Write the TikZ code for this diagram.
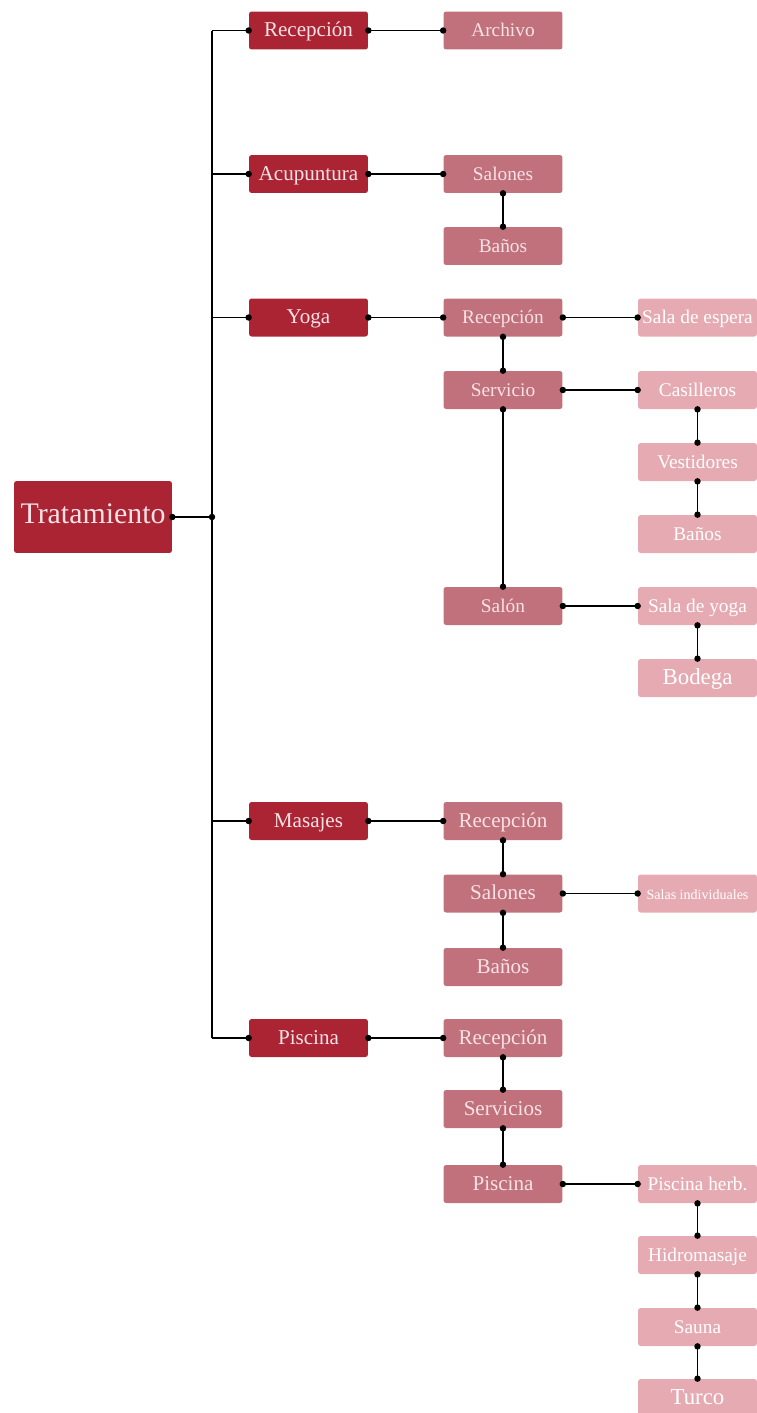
\documentclass[tikz,border=0pt]{standalone}
\usepackage{fontspec}
\setmainfont{Liberation Serif}
\usetikzlibrary{arrows.meta}
\definecolor{deepred}{RGB}{170, 36, 52}
\definecolor{midrose}{RGB}{192, 113, 123}
\definecolor{lightrose}{RGB}{230, 170, 178}
\definecolor{labelpink}{RGB}{248, 226, 230}

\begin{document}
\begin{tikzpicture}[x=0.02cm, y=-0.02cm,
  box/.style={rounded corners=1.5pt, minimum width=2.38cm, minimum height=0.76cm,
    inner sep=1pt, text=labelpink, text height=1.9ex, text depth=0.4ex,
    font=\fontsize{11}{13}\selectfont},
  lvone/.style={box, fill=deepred, font=\fontsize{12}{14}\selectfont},
  lvtwo/.style={box, fill=midrose},
  lvthree/.style={box, fill=lightrose, text=white},
  big/.style={font=\fontsize{12}{14}\selectfont},
  bigger/.style={font=\fontsize{13}{15}\selectfont},
  wire/.style={line width=1pt, black},
  dots/.style={wire, {Circle[length=3.6pt]}-{Circle[length=3.6pt]},
    shorten <=-1.8pt, shorten >=-1.8pt},
  dotend/.style={wire, -{Circle[length=3.6pt]}, shorten >=-1.8pt}]

  \useasboundingbox (0, 0) rectangle (757, 1413);

  % Root
  \node[lvone, minimum width=3.16cm, minimum height=1.44cm,
    font=\fontsize{17}{20}\selectfont] (treat) at (93, 517) {Tratamiento};
  \coordinate (trunk) at (212, 517);

  % Level one
  \node[lvone] (recep) at (308.5, 30.5) {Recepción};
  \node[lvone] (acu)   at (308.5, 174)  {Acupuntura};
  \node[lvone] (yoga)  at (308.5, 317.5) {Yoga};
  \node[lvone] (mas)   at (308.5, 821)  {Masajes};
  \node[lvone] (pisc)  at (308.5, 1038) {Piscina};

  % Level two
  \node[lvtwo] (archivo)  at (503, 30.5) {Archivo};
  \node[lvtwo] (acusal)   at (503, 174)  {Salones};
  \node[lvtwo] (acuban)   at (503, 246)  {Baños};
  \node[lvtwo] (yogrec)   at (503, 317.5) {Recepción};
  \node[lvtwo] (yogserv)  at (503, 390)  {Servicio};
  \node[lvtwo] (yogsal)   at (503, 606)  {Salón};
  \node[lvtwo, big] (masrec)  at (503, 821)  {Recepción};
  \node[lvtwo, big] (massal)  at (503, 893.5) {Salones};
  \node[lvtwo, big] (masban)  at (503, 967)  {Baños};
  \node[lvtwo, big] (pisrec)  at (503, 1038) {Recepción};
  \node[lvtwo, big] (pisserv) at (503, 1109) {Servicios};
  \node[lvtwo, big] (pispis)  at (503, 1184) {Piscina};

  % Level three
  \node[lvthree] (espera)   at (697.5, 317.5) {Sala de espera};
  \node[lvthree] (casill)   at (697.5, 390)  {Casilleros};
  \node[lvthree] (vestid)   at (697.5, 462)  {Vestidores};
  \node[lvthree] (yogban)   at (697.5, 534)  {Baños};
  \node[lvthree] (salyoga)  at (697.5, 606)  {Sala de yoga};
  \node[lvthree, bigger] (bodega) at (697.5, 678) {Bodega};
  \node[lvthree, font=\fontsize{8}{10}\selectfont] (indiv) at (697.5, 893.5) {Salas individuales};
  \node[lvthree] (herb)     at (697.5, 1184) {Piscina herb.};
  \node[lvthree] (hidro)    at (697.5, 1255) {Hidromasaje};
  \node[lvthree] (sauna)    at (697.5, 1327) {Sauna};
  \node[lvthree, bigger] (turco) at (697.5, 1398) {Turco};

  % Trunk and its branches
  \draw[dots] (treat.east) -- (trunk);
  \draw[wire] (recep.west -| trunk) -- (pisc.west -| trunk);
  \foreach \n in {recep, acu, yoga, mas, pisc}
    \draw[dotend] (\n.west -| trunk) -- (\n.west);

  % Level one to level two
  \draw[dots] (recep.east) -- (archivo.west);
  \draw[dots] (acu.east) -- (acusal.west);
  \draw[dots] (yoga.east) -- (yogrec.west);
  \draw[dots] (mas.east) -- (masrec.west);
  \draw[dots] (pisc.east) -- (pisrec.west);

  % Stacks in level two
  \draw[dots] (acusal.south) -- (acuban.north);
  \draw[dots] (yogrec.south) -- (yogserv.north);
  \draw[dots] (yogserv.south) -- (yogsal.north);
  \draw[dots] (masrec.south) -- (massal.north);
  \draw[dots] (massal.south) -- (masban.north);
  \draw[dots] (pisrec.south) -- (pisserv.north);
  \draw[dots] (pisserv.south) -- (pispis.north);

  % Level two to level three
  \draw[dots] (yogrec.east) -- (espera.west);
  \draw[dots] (yogserv.east) -- (casill.west);
  \draw[dots] (yogsal.east) -- (salyoga.west);
  \draw[dots] (massal.east) -- (indiv.west);
  \draw[dots] (pispis.east) -- (herb.west);

  % Stacks in level three
  \draw[dots] (casill.south) -- (vestid.north);
  \draw[dots] (vestid.south) -- (yogban.north);
  \draw[dots] (salyoga.south) -- (bodega.north);
  \draw[dots] (herb.south) -- (hidro.north);
  \draw[dots] (hidro.south) -- (sauna.north);
  \draw[dots] (sauna.south) -- (turco.north);

\end{tikzpicture}
\end{document}
